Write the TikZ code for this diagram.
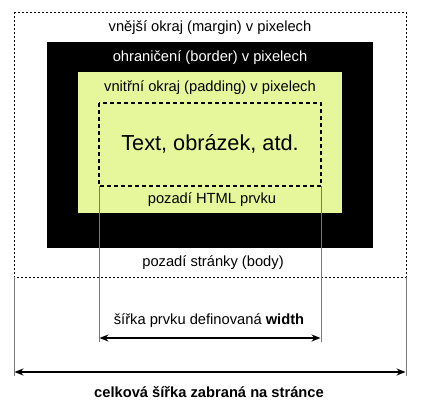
\documentclass[tikz,border=0pt]{standalone}
\usepackage{fontspec}
\setmainfont{Liberation Sans}
\usetikzlibrary{arrows.meta}
\definecolor{padyellow}{RGB}{230,246,155}
\definecolor{guidegray}{RGB}{120,120,120}
\tikzset{
  lbl/.style={inner sep=0pt, font=\fontsize{14.7}{17}\selectfont},
  dimarrow/.style={line width=1.6pt, {Stealth[length=9pt,width=7pt]}-{Stealth[length=9pt,width=7pt]}},
  guide/.style={guidegray, line width=0.6pt},
}
\begin{document}
\begin{tikzpicture}[x=1pt,y=-1pt]
\useasboundingbox (0,0) rectangle (430,415);
% margin box
\draw[dash pattern=on 2pt off 2pt, line width=0.8pt] (14,12) rectangle (406,277);
% border
\fill[black] (47,42) rectangle (373,248);
% padding
\fill[padyellow] (78,72) rectangle (342,213);
% content
\draw[dash pattern=on 4pt off 3pt, line width=1.1pt] (99,103) rectangle (321,186);
% coordinates
\coordinate (cl) at (99,186);
\coordinate (cr) at (321,186);
\coordinate (cla) at (99,338);
\coordinate (cra) at (321,338);
\coordinate (ml) at (14,277);
\coordinate (mr) at (406,277);
\coordinate (mla) at (14,372);
\coordinate (mra) at (406,372);
% guides
\draw[guide] (cl) -- ([yshift=-4pt]cla);
\draw[guide] (cr) -- ([yshift=-4pt]cra);
\draw[guide] (ml) -- ([yshift=-4pt]mla);
\draw[guide] (mr) -- ([yshift=-4pt]mra);
% arrows
\draw[dimarrow] ([xshift=0.5pt]cla) -- ([xshift=-0.5pt]cra);
\draw[dimarrow] ([xshift=0.5pt]mla) -- ([xshift=-0.5pt]mra);
% labels
\node[lbl] (t1) at (210,28) {vnější okraj (margin) v pixelech};
\node[lbl, white] (t2) at (210,58) {ohraničení (border) v pixelech};
\node[lbl] (t3) at (210,88) {vnitřní okraj (padding) v pixelech};
\node[inner sep=0pt, font=\fontsize{21.7}{25}\selectfont] (t4) at (210,144) {Text, obrázek, atd.};
\node[lbl] (t5) at (212,200) {pozadí HTML prvku};
\node[lbl] (t6) at (213,263) {pozadí stránky (body)};
\node[lbl] (t7) at (209,321) {šířka prvku definovaná \textbf{width}};
\node[lbl, font=\fontsize{14.7}{17}\selectfont\bfseries] (t8) at (209,392) {celková šířka zabraná na stránce};
\end{tikzpicture}
\end{document}
